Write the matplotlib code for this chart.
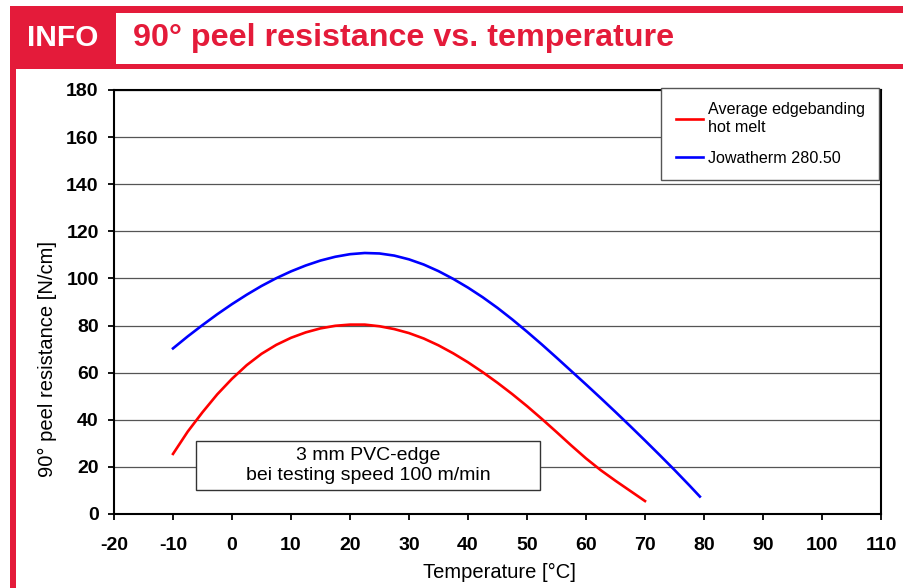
import matplotlib.pyplot as plt
from matplotlib.patches import Rectangle

# Data
temp_red = [-10, -7.5, -5, -2.5, 0, 2.5, 5, 7.5, 10, 12.5, 15, 17.5, 20, 22.5, 25, 27.5,
            30, 32.5, 35, 37.5, 40, 42.5, 45, 47.5, 50, 52.5, 55, 57.5, 60, 62.5, 65, 67.5, 70]
peel_red = [25.5, 35, 43.2, 50.8, 57.4, 63.2, 68, 71.8, 74.8, 77.1, 78.8, 79.9, 80.4, 80.4,
            79.7, 78.5, 76.8, 74.5, 71.6, 68.2, 64.4, 60.2, 55.7, 50.9, 45.8, 40.4, 34.8,
            29.1, 23.6, 18.6, 14.1, 9.8, 5.5]

temp_blue = [-10, -7.5, -5, -2.5, 0, 2.5, 5, 7.5, 10, 12.5, 15, 17.5, 20, 22.5, 25, 27.5, 30,
             32.5, 35, 37.5, 40, 42.5, 45, 47.5, 50, 52.5, 55, 57.5, 60, 62.5, 65, 67.5, 70,
             72.5, 75, 77.5, 79.3]
peel_blue = [70.3, 75.4, 80.2, 84.8, 89.1, 93.1, 96.8, 100.1, 103, 105.5, 107.6, 109.2, 110.3,
             110.8, 110.6, 109.7, 108.1, 105.9, 103.1, 99.8, 96.1, 92, 87.5, 82.6, 77.4, 72,
             66.4, 60.7, 55, 49.2, 43.3, 37.3, 31.2, 25, 18.7, 12.2, 7.4]

xticks = list(range(-20, 111, 10))
yticks = list(range(0, 181, 20))

red = '#e41b3a'
W, H = 904, 588
plt.rcParams['font.family'] = ['Liberation Sans', 'DejaVu Sans']
plt.rcParams['axes.unicode_minus'] = False

fig = plt.figure(figsize=(W / 100, H / 100), dpi=100)


def rect(x0, y0, x1, y1, color):
    # pixel box (top-left origin) -> figure fraction
    fig.patches.append(Rectangle((x0 / W, 1 - y1 / H), (x1 - x0) / W, (y1 - y0) / H,
                                 transform=fig.transFigure, color=color, zorder=0, lw=0))


# header frame
rect(10, 6, W, 13, red)
rect(10, 6, 116, 69, red)
rect(10, 64, W, 69, red)
rect(10, 69, 16, H, red)

fig.text(63 / W, 1 - 38 / H, 'INFO', color='white', fontsize=21.5, fontweight='bold',
         ha='center', va='center')
fig.text(133 / W, 1 - 38 / H, '90° peel resistance vs. temperature', color=red,
         fontsize=23.2, fontweight='bold', ha='left', va='center')

ax = fig.add_axes([114 / W, 1 - 514 / H, 767 / W, 424 / H])
ax.plot(temp_red, peel_red, color='#ff0000', lw=1.9, label='Average edgebanding\nhot melt')
ax.plot(temp_blue, peel_blue, color='#0000ff', lw=1.9, label='Jowatherm 280.50')

ax.set_xlim(-20, 110)
ax.set_ylim(0, 180)
ax.set_xticks(xticks)
ax.set_yticks(yticks)
ax.yaxis.grid(True, color='#555555', lw=0.9)
ax.set_axisbelow(True)
for s in ax.spines.values():
    s.set_linewidth(1.5)
ax.tick_params(direction='out', length=4.5, width=1.3, labelsize=14)
ax.tick_params(axis='x', pad=12)
ax.tick_params(axis='y', pad=6.5)
for lbl in ax.get_xticklabels() + ax.get_yticklabels():
    lbl.set_fontweight('bold')

ax.set_xlabel('Temperature [°C]', fontsize=14.5)
ax.set_ylabel('90° peel resistance [N/cm]', fontsize=14.5)
ax.xaxis.set_label_coords(0.502, -0.1156)
ax.yaxis.set_label_coords(-0.0743, 0.3656)

leg = ax.legend(loc='upper right', bbox_to_anchor=(0.998, 1.005), fontsize=11.6, frameon=True,
                fancybox=False, edgecolor='#555555', handlelength=1.7, handletextpad=0.3,
                borderpad=0.9, labelspacing=1.0, borderaxespad=0)
leg.get_frame().set_linewidth(1)
leg.get_frame().set_alpha(1)

# annotation box
ax.add_patch(Rectangle((-6.1, 10.2), 58.3, 20.8, fc='white', ec='#333333', lw=1, zorder=3))
ax.text(23.05, 20.6, '3 mm PVC-edge\nbei testing speed 100 m/min', ha='center', va='center',
        fontsize=14, linespacing=1.3, zorder=4)

fig.savefig('out.png', dpi=100)
